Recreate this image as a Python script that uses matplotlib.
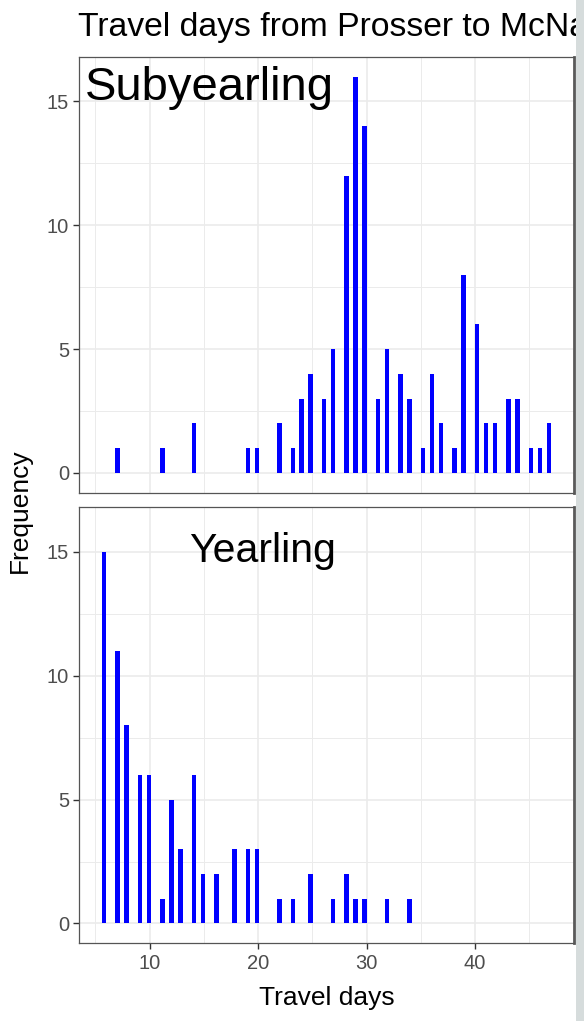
import numpy as np
import matplotlib
matplotlib.use('Agg')
import matplotlib.pyplot as plt
from matplotlib.patches import Rectangle
from matplotlib.ticker import MultipleLocator

plt.rcParams['font.family'] = ['Liberation Sans', 'DejaVu Sans']

# travel days and how many fish took that many days
sub_days = [7, 11, 14, 19, 20, 22, 23, 24, 25, 26, 27, 28, 29, 30, 31, 32,
            33, 34, 35, 36, 37, 38, 39, 40, 41, 42, 43, 44, 45, 46, 47]
sub_counts = [1, 1, 2, 1, 1, 2, 1, 3, 4, 3, 5, 12, 16, 14, 3, 5,
              4, 3, 1, 4, 2, 1, 8, 6, 2, 2, 3, 3, 1, 1, 2]

year_days = [6, 7, 8, 9, 10, 11, 12, 13, 14, 15, 16, 18, 19, 20, 22, 23,
             25, 27, 28, 29, 30, 32, 34]
year_counts = [15, 11, 8, 6, 6, 1, 5, 3, 6, 2, 2, 3, 3, 3, 1, 1,
               2, 1, 2, 1, 1, 1, 1]

panels = ['Subyearling', 'Yearling']
x_ticks = [10, 20, 30, 40]
y_ticks = [0, 5, 10, 15]

# ggplot-style bins=100 over the shared range
n_bins = 100
lo = min(min(sub_days), min(year_days))
hi = max(max(sub_days), max(year_days))
width = (hi - lo) / (n_bins - 1)
boundary = width / 2
shift = np.floor((lo - boundary) / width)
origin = boundary + shift * width
edges = origin + width * np.arange(n_bins + 1)
edges = edges[edges <= hi + width]

W, H = 584, 1021
fig = plt.figure(figsize=(W / 100, H / 100), dpi=100)

left, right = 79.3, 573.6
tops = [56.7, 507.3]
ph = 436.0

xr = edges[-1] - edges[0]
xlim = (edges[0] - 0.05 * xr, edges[-1] + 0.05 * xr)
ymax = max(max(sub_counts), max(year_counts))
ylim = (-0.05 * ymax, ymax * 1.05)

data = [(sub_days, sub_counts), (year_days, year_counts)]
label_pos = [(15.55, 15.07), (20.45, 14.6)]
label_size = [34, 29.5]

for i, (days, counts) in enumerate(data):
    ax = fig.add_axes([left / W, 1 - (tops[i] + ph) / H, (right - left) / W, ph / H])
    ax.hist(days, bins=edges, weights=counts, color='#0000FF', edgecolor='none', zorder=3)
    ax.set_xlim(*xlim)
    ax.set_ylim(*ylim)
    ax.set_xticks(x_ticks)
    ax.xaxis.set_minor_locator(MultipleLocator(5))
    ax.set_yticks(y_ticks)
    ax.yaxis.set_minor_locator(MultipleLocator(2.5))
    ax.grid(True, which='major', color='#EBEBEB', linewidth=1.2, zorder=0)
    ax.grid(True, which='minor', color='#EBEBEB', linewidth=0.7, zorder=0)
    ax.set_axisbelow(True)
    for s in ['left', 'top', 'bottom']:
        ax.spines[s].set_color('#555555')
        ax.spines[s].set_linewidth(0.9)
    ax.spines['right'].set_color('#5a5a5a')
    ax.spines['right'].set_linewidth(2.0)
    ax.tick_params(which='major', length=4.5, width=1.0, color='#333333',
                   labelcolor='#4D4D4D', labelsize=14.5, pad=3)
    ax.tick_params(which='minor', length=0)
    if i == 0:
        ax.tick_params(axis='x', which='both', bottom=False, labelbottom=False)
    ax.text(label_pos[i][0], label_pos[i][1], panels[i], fontsize=label_size[i],
            ha='center', va='baseline', color='black', zorder=5)

# the title runs past the right edge of the captured window
fig.text(78 / W, 1 - 36 / H, 'Travel days from Prosser to McNa',
         fontsize=24.3, ha='left', va='baseline', color='black')
fig.text((left + right) / 2 / W, 1 - 1005 / H, 'Travel days', fontsize=19,
         ha='center', va='baseline', color='black')
fig.text(20 / W, 0.5, 'Frequency', fontsize=19, rotation=90,
         ha='center', va='center', color='black')

# viewer background strip on the right edge
fig.add_artist(Rectangle((576 / W, 0), 8 / W, 1, transform=fig.transFigure,
                         facecolor='#D6DCDC', edgecolor='none', zorder=10))

fig.savefig('out.png', dpi=100)
